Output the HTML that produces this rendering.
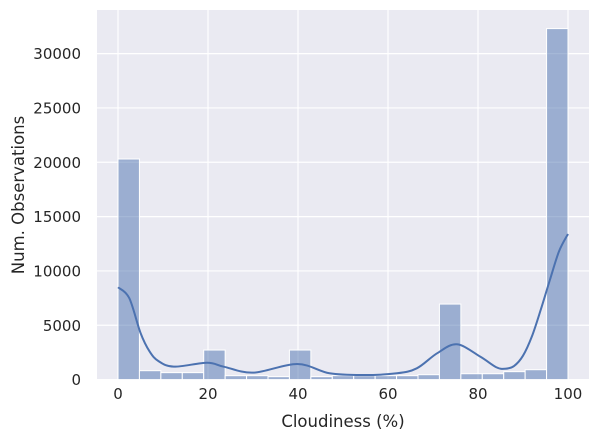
<!DOCTYPE html>
<html><head><meta charset="utf-8"><style>
body{margin:0;background:#fff}
svg text{font-family:"DejaVu Sans","Liberation Sans",sans-serif;fill:#262626}
</style></head><body>
<svg id="chart" width="601" height="441" xmlns="http://www.w3.org/2000/svg">
<rect x="97" y="10" width="492" height="369.6" fill="#EAEAF2"/>
<g id="grid"></g><g id="bars"></g><g id="kde"></g><g id="ticks"></g>
<text x="343" y="427" text-anchor="middle" font-size="16.5">Cloudiness (%)</text>
<text transform="translate(24,195) rotate(-90)" text-anchor="middle" font-size="16.5">Num. Observations</text>
</svg>
<script>
const binCounts=[20300,820,640,640,2720,360,360,270,2720,270,360,360,360,360,450,6950,540,540,730,910,32300];
const kdeX=[0,2.5,5,7,9,12.4,19.8,23.5,30.1,39.8,47,54.6,62,66.4,70.9,75.3,80.5,84,86,88,90,92,94,96,98,100];
const kdeY=[8490,7500,4300,2600,1700,1190,1550,1190,640,1440,580,420,580,1040,2420,3250,2110,1150,1000,1250,2200,4000,6500,9200,11800,13400];
const xTicks=[0,20,40,60,80,100];
const yTicks=[0,5000,10000,15000,20000,25000,30000];
const NS="http://www.w3.org/2000/svg";
const X=v=>118+v*4.5, Y=v=>379.6-v*0.010867;
function mk(t,a,p){const e=document.createElementNS(NS,t);for(const k in a)e.setAttribute(k,a[k]);p.appendChild(e);return e;}
const g=document.getElementById('grid'),tk=document.getElementById('ticks');
xTicks.forEach(v=>{const l=mk('line',{x1:X(v),x2:X(v),y1:10,y2:379.6,stroke:'#fff','stroke-width':1.2},g);

const t=mk('text',{x:X(v),y:399,'text-anchor':'middle','font-size':15},tk);t.textContent=v;
});
yTicks.forEach(v=>{const l=mk('line',{x1:97,x2:589,y1:Y(v),y2:Y(v),stroke:'#fff','stroke-width':1.2},g);

const t=mk('text',{x:81,y:Y(v)+5.5,'text-anchor':'end','font-size':15},tk);t.textContent=v;
});
const b=document.getElementById('bars'),w=100/binCounts.length;
binCounts.forEach((c,i)=>{const r=mk('rect',{x:X(i*w),y:Y(c),width:X((i+1)*w)-X(i*w),height:Y(0)-Y(c),fill:'#4C72B0','fill-opacity':0.5,stroke:'#fff','stroke-width':1},b);
});
const P=kdeX.map((x,i)=>[X(x),Y(kdeY[i])]);
let d='M'+P[0][0]+','+P[0][1];
for(let i=0;i<P.length-1;i++){const p0=P[Math.max(0,i-1)],p1=P[i],p2=P[i+1],p3=P[Math.min(P.length-1,i+2)];
d+=' C'+(p1[0]+(p2[0]-p0[0])/6)+','+(p1[1]+(p2[1]-p0[1])/6)+' '+(p2[0]-(p3[0]-p1[0])/6)+','+(p2[1]-(p3[1]-p1[1])/6)+' '+p2[0]+','+p2[1];}
const k=mk('path',{d:d,fill:'none',stroke:'#4C72B0','stroke-width':2},document.getElementById('kde'));

</script>
</body></html>
